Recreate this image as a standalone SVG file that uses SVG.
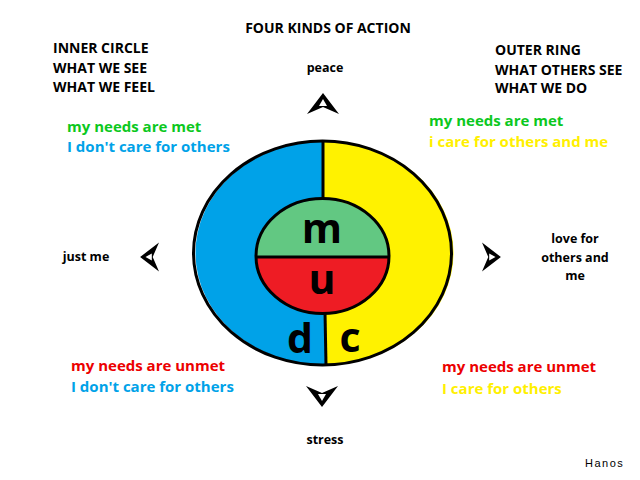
<svg xmlns="http://www.w3.org/2000/svg" width="640" height="480" viewBox="0 0 640 480">
<style>
.t{font-family:"Open Sans","Noto Sans","Liberation Sans",sans-serif;font-weight:bold;fill:#000}
.h{font-size:14px}
.s{font-size:12.5px;font-weight:bold}
.c{font-size:15px}
.big{font-family:"Open Sans","Noto Sans","Liberation Sans",sans-serif;font-weight:bold;font-size:41px;fill:#000;text-anchor:middle}
.g{fill:#0CC81E}.b{fill:#00A2E8}.y{fill:#FFF000}.r{fill:#EC0000}
</style>
<defs>
<g id="arr">
<path d="M0,-11 L16,10 L0,3 L-16,10 Z" fill="#000"/>
<path d="M0,-5 L4,2 L-4,2 Z" fill="#fff"/>
</g>
</defs>
<rect width="640" height="480" fill="#fff"/>
<g id="rings">
<path d="M323,141 A129,112 0 0 0 326,365 Z" fill="#00A2E8"/>
<path d="M323,141 A129,112 0 0 1 326,365 Z" fill="#FFF200"/>
<ellipse cx="322.5" cy="253" rx="129" ry="112" fill="none" stroke="#000" stroke-width="3"/>
<line x1="323" y1="141" x2="323" y2="199" stroke="#000" stroke-width="3"/>
<line x1="325" y1="312" x2="326" y2="365" stroke="#000" stroke-width="3"/>
</g>
<g id="inner">
<path d="M256,257 A66.5,57.5 0 0 1 389,257 Z" fill="#62C882"/>
<path d="M256,257 A66.5,57.5 0 0 0 389,257 Z" fill="#EE1C24"/>
<ellipse cx="322.5" cy="256" rx="66.5" ry="57.5" fill="none" stroke="#000" stroke-width="3"/>
<line x1="256" y1="257" x2="389" y2="257" stroke="#000" stroke-width="3"/>
<text class="big" x="322" y="243">m</text>
<text class="big" x="322" y="294">u</text>
<text class="big" x="300" y="353">d</text>
<text class="big" x="350" y="352">c</text>
</g>
<g id="arrows">
<use href="#arr" transform="translate(323,104)"/>
<use href="#arr" transform="translate(322,396) rotate(180)"/>
<use href="#arr" transform="translate(150,257) rotate(-90) scale(0.9)"/>
<use href="#arr" transform="translate(491,257) rotate(90) scale(0.9)"/>
</g>
<g id="labels">
<text class="t h" x="328" y="33" text-anchor="middle">FOUR KINDS OF ACTION</text>
<text class="t h" x="53" y="53">INNER CIRCLE</text>
<text class="t h" x="53" y="73">WHAT WE SEE</text>
<text class="t h" x="53" y="92">WHAT WE FEEL</text>
<text class="t h" x="495" y="55">OUTER RING</text>
<text class="t h" x="495" y="75">WHAT OTHERS SEE</text>
<text class="t h" x="495" y="93">WHAT WE DO</text>
<text class="t s" x="325" y="72" text-anchor="middle">peace</text>
<text class="t s" x="325" y="444" text-anchor="middle">stress</text>
<text class="t s" x="86" y="261" text-anchor="middle">just me</text>
<text class="t s" x="575" y="243" text-anchor="middle">love for</text>
<text class="t s" x="575" y="262" text-anchor="middle">others and</text>
<text class="t s" x="575" y="280" text-anchor="middle">me</text>
<text class="t c g" x="67" y="132">my needs are met</text>
<text class="t c b" x="67" y="152">I don't care for others</text>
<text class="t c g" x="429" y="126">my needs are met</text>
<text class="t c y" x="429" y="147">i care for others and me</text>
<text class="t c r" x="71" y="371">my needs are unmet</text>
<text class="t c b" x="71" y="392">I don't care for others</text>
<text class="t c r" x="442" y="372">my needs are unmet</text>
<text class="t c y" x="442" y="394">I care for others</text>
<text x="585" y="467" font-family="'Liberation Sans',sans-serif" font-size="11" letter-spacing="1.5" fill="#000">Hanos</text>
</g>
</svg>
